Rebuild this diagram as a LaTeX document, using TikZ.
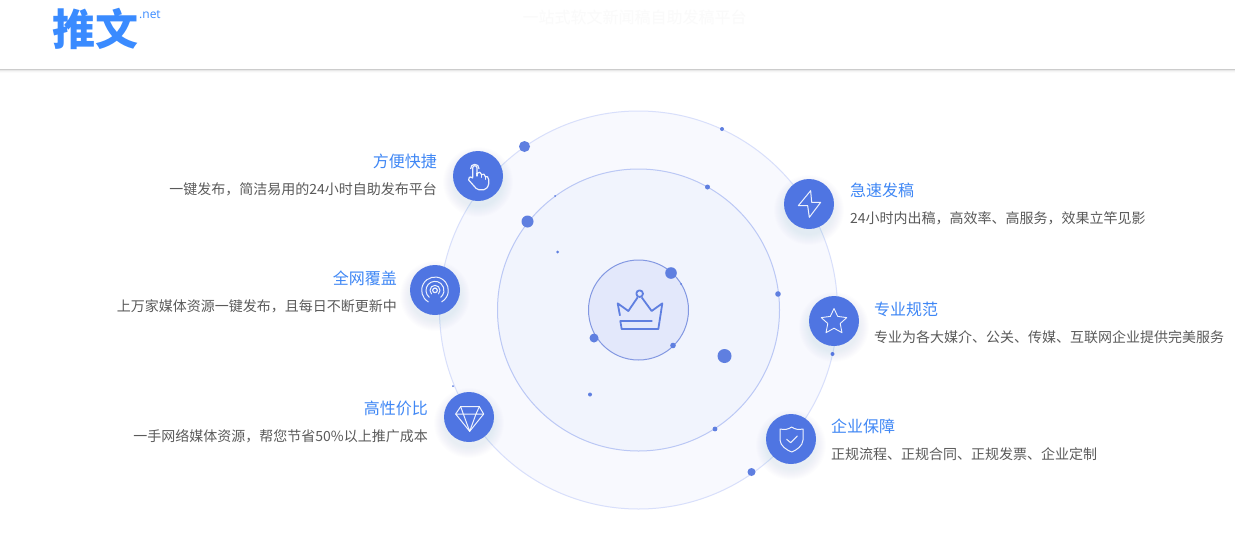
\documentclass[tikz,border=0pt]{standalone}
\usepackage{fontspec}
\setmainfont{Noto Sans CJK SC}
\newfontfamily\latinfont{Open Sans}
\definecolor{accent}{HTML}{4F75E2}
\definecolor{titleblue}{HTML}{3F87F5}
\definecolor{desc}{HTML}{5A5A5A}
\definecolor{logoblue}{HTML}{3A8BFF}
\definecolor{ringA}{HTML}{F8F9FE}
\definecolor{ringAline}{HTML}{D8DFFB}
\definecolor{ringB}{HTML}{F1F4FD}
\definecolor{ringBline}{HTML}{BBC8F5}
\definecolor{ringC}{HTML}{E3E8FB}
\definecolor{ringCline}{HTML}{8398E2}
\definecolor{dotc}{HTML}{5F7FE0}
\definecolor{crownc}{HTML}{5F7FE0}
\tikzset{
  titletxt/.style={inner sep=0pt,text=titleblue,font=\fontsize{16}{18}\selectfont},
  desctxt/.style={inner sep=0pt,text=desc,font=\fontsize{14}{16}\selectfont},
  icondisc/.style={circle,fill=accent,minimum size=50pt,inner sep=0pt},
  iconline/.style={draw=white,line width=1pt,line join=round,line cap=round,opacity=.9},
  zoomed/.style n args={3}{shift={(#1,#2)},x=#3pt,y=-#3pt}
}
\newcommand{\halo}[2]{%
  \foreach \rr in {25,26,...,35}{\fill[accent,opacity=.009] (#1,#2+6) circle[radius=\rr];}}
\newcommand{\speck}[3]{\fill[dotc] (#1,#2) circle[radius=#3];}
\begin{document}
\begin{tikzpicture}[x=1pt,y=-1pt]
\useasboundingbox (0,0) rectangle (1235,544);
\fill[white] (0,0) rectangle (1235,544);
% header
\foreach \i/\c in {0/20,1/9,2/4,3/1.5}{\fill[black!\c] (0,69+\i) rectangle (1235,70+\i);}
\node[inner sep=0pt,text=logoblue,font=\fontsize{43}{43}\selectfont\bfseries] (logo) at (95,29) {推文};
\node[inner sep=0pt,text=logoblue,font=\latinfont\fontsize{12}{12}\selectfont,anchor=west] (dotnet) at (139,15) {.net};
\node[inner sep=0pt,text=black!2,font=\fontsize{16}{16}\selectfont] (slogan) at (634.5,17) {一站式软文新闻稿自助发稿平台};
% rings
\fill[ringA,draw=ringAline,line width=1pt] (638.5,310) circle[radius=199];
\fill[ringB,draw=ringBline,line width=1pt] (638.5,310) circle[radius=141];
\fill[ringC,draw=ringCline,line width=1pt] (638.5,310) circle[radius=50];
% specks
\speck{524.5}{146.5}{5.5}\speck{722}{129}{2}\speck{707.5}{187}{2.5}\speck{555}{196}{1}
\speck{527.5}{221.5}{6}\speck{557.5}{252}{1.5}\speck{671}{273}{5.8}\speck{681}{284}{1}
\speck{778}{294}{2.8}\speck{832.5}{354}{2}\speck{724.5}{356}{7}\speck{673}{345.5}{2.8}
\speck{594}{338}{4.5}\speck{590}{394.5}{2}\speck{453}{386}{1}\speck{715}{429}{2.4}\speck{751.5}{472}{4}
% crown
\begin{scope}[zoomed={570}{250}{.3333},draw=crownc,line width=1.8pt,line join=round]
  \draw (150,197) -- (143,160) -- (175,183) -- (203,142);
  \draw (215,142) -- (245,183) -- (277,160) -- (265,237) -- (155,237) -- (151,213) -- (247,213);
  \draw (209,131) circle[radius=10];
\end{scope}
% discs
\halo{478}{176}\halo{435}{290}\halo{469}{417}\halo{809}{204}\halo{834}{321}\halo{791}{439}
\node[icondisc] (touch) at (478,176) {};
\node[icondisc] (signal) at (435,290) {};
\node[icondisc] (gem) at (469,417) {};
\node[icondisc] (bolt) at (809,204) {};
\node[icondisc] (starb) at (834,321) {};
\node[icondisc] (shield) at (791,439) {};
% hand
\begin{scope}[zoomed={458}{156}{.3333},iconline,line width=1.2pt]
  \draw (44,64) -- (44,36) .. controls (44,27) and (57,27) .. (57,36) -- (57,52)
    .. controls (62,46) and (70,48) .. (71,56) .. controls (75,52) and (82,54) .. (82,62)
    .. controls (86,59) and (92,63) .. (92,70) -- (92,84) .. controls (90,94) and (84,100) .. (78,101)
    -- (62,101) .. controls (56,100) and (52,95) .. (48,90) -- (32,72) .. controls (29,66) and (36,59) .. (44,66);
  \draw (38,38) .. controls (36,22) and (64,20) .. (63,38);
  \draw (57,52) -- (57,60) (71,56) -- (71,64) (82,62) -- (82,70);
\end{scope}
% signal
\begin{scope}[zoomed={415}{270}{.3333},iconline]
  \draw[line width=1.2pt] (60,61) circle[radius=7];
  \draw (60,61) ++(135:15) arc[start angle=135,end angle=405,radius=15];
  \draw (60,61) ++(130:27) arc[start angle=130,end angle=410,radius=27];
  \draw (60,61) ++(120:40) arc[start angle=120,end angle=420,radius=40];
\end{scope}
% gem
\begin{scope}[zoomed={430}{380}{.3333},iconline]
  \draw (92,80) -- (148,80) -- (161,102) -- (119,154) -- (77,102) -- cycle;
  \draw (77,102) -- (161,102) (92,80) -- (100,102) -- (119,154) -- (138,102) -- (148,80);
\end{scope}
% bolt
\begin{scope}[zoomed={760}{170}{.3333},iconline]
  \draw (152,62) -- (115,107) -- (143,107) -- (148,142) -- (182,97) -- (155,97) -- cycle;
\end{scope}
% star
\draw[iconline,line width=.9pt] (834,308.5) -- (837.7,316.4) -- (846.8,317.6) -- (840.2,323.5) -- (842,332.7)
  -- (834,328.2) -- (826,332.7) -- (827.8,323.5) -- (821.2,317.6) -- (830.3,316.4) -- cycle;
% shield
\begin{scope}[zoomed={750}{400}{.3333},iconline]
  \draw (90,87) .. controls (105,90) and (115,88) .. (125,81) .. controls (135,88) and (145,90) .. (159,87)
    -- (159,120) .. controls (158,138) and (140,150) .. (125,156) .. controls (110,150) and (91,138) .. (90,120) -- cycle;
  \draw (110,118) -- (122,128) -- (142,108);
\end{scope}
% texts
\node[titletxt,anchor=east] (t1) at (437,161) {方便快捷};
\node[desctxt,anchor=east] (d1) at (437,189) {一键发布，简洁易用的24小时自助发布平台};
\node[titletxt,anchor=east] (t2) at (397,278) {全网覆盖};
\node[desctxt,anchor=east] (d2) at (397,306) {上万家媒体资源一键发布，且每日不断更新中};
\node[titletxt,anchor=east] (t3) at (428,408) {高性价比};
\node[desctxt,anchor=east] (d3) at (428,436) {一手网络媒体资源，帮您节省50\%以上推广成本};
\node[titletxt,anchor=west] (t4) at (850,190) {急速发稿};
\node[desctxt,anchor=west] (d4) at (850,218) {24小时内出稿，高效率、高服务，效果立竿见影};
\node[titletxt,anchor=west] (t5) at (874,309) {专业规范};
\node[desctxt,anchor=west] (d5) at (874,337) {专业为各大媒介、公关、传媒、互联网企业提供完美服务};
\node[titletxt,anchor=west] (t6) at (831,426) {企业保障};
\node[desctxt,anchor=west] (d6) at (831,454) {正规流程、正规合同、正规发票、企业定制};
\end{tikzpicture}
\end{document}
